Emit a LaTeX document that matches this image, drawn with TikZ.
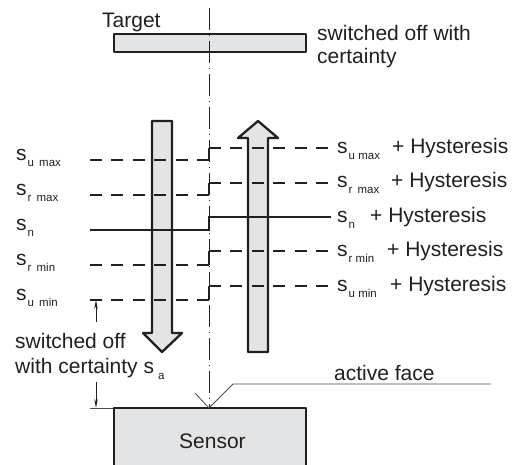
\documentclass[tikz,border=0pt]{standalone}
\usepackage{fontspec}
\setmainfont{Liberation Sans}
\usetikzlibrary{arrows.meta}
\definecolor{ink}{HTML}{231F20}
\definecolor{pale}{HTML}{E3E4E6}
\definecolor{lead}{HTML}{4A4A4A}
\newcommand{\subtx}[1]{\raisebox{-6pt}{\fontsize{11.5}{11.5}\selectfont #1}}
\begin{document}
\begin{tikzpicture}[x=1pt,y=-1pt,
  txt/.style={anchor=base west, inner sep=0pt, text=ink, font=\fontsize{21}{23}\selectfont},
  body/.style={draw=ink, fill=pale, line width=2.3pt, line join=round},
  lvl/.style={draw=ink, line width=2.6pt, dash pattern=on 12pt off 9.4pt},
  lvlsolid/.style={draw=ink, line width=2pt},
  riser/.style={draw=ink, line width=2pt},
  axisline/.style={draw=ink, line width=0.8pt, dash pattern=on 22pt off 5pt on 1pt off 5pt},
  leadline/.style={draw=lead, line width=0.8pt},
  dimarrow/.style={draw=ink, line width=0.8pt, -{Stealth[length=9pt,width=3.5pt]}}
]
\useasboundingbox (0,0) rectangle (518,464);

% target
\node[txt] (target) at (102,27) {Target};
\draw[body] (114,34) rectangle (306,52);
\node[txt] (off1) at (317,40) {switched off with};
\node[txt] (off2) at (317,63) {certainty};

% down arrow
\draw[body] (152,121) -- (172,121) -- (172,333) -- (182,333) -- (162,352) -- (143,333) -- (152,333) -- cycle;
% up arrow
\draw[body] (248,352) -- (248,138) -- (238,138) -- (258,121) -- (278,138) -- (268,138) -- (268,352) -- cycle;

% levels
\foreach \yl/\yr in {160/148, 195/183, 265/251, 300/286}{
  \draw[lvl] (209,\yl) -- (90,\yl);
  \draw[riser] (209,\yl) -- (209,\yr);
  \draw[lvl] (209,\yr) -- (331,\yr);
}
\draw[lvlsolid] (90,230) -- (209,230) -- (209,217) -- (331,217);

% axis
\draw[axisline] (209,8) -- (209,408);

% left labels
\node[txt] (lumax) at (16,160) {s\hspace{1pt}\subtx{u\, max}};
\node[txt] (lrmax) at (16,195) {s\hspace{1pt}\subtx{r\, max}};
\node[txt] (ln)    at (16,230) {s\hspace{1pt}\subtx{n}};
\node[txt] (lrmin) at (16,265) {s\hspace{1pt}\subtx{r\, min}};
\node[txt] (lumin) at (16,300) {s\hspace{1pt}\subtx{u\, min}};

% right labels
\node[txt] (rumax) at (337,153) {\makebox[55pt][l]{s\hspace{1pt}\subtx{u max}}+ Hysteresis};
\node[txt] (rrmax) at (337,187) {\makebox[54pt][l]{s\hspace{1pt}\subtx{r\, max}}+ Hysteresis};
\node[txt] (rn)    at (337,222) {\makebox[33pt][l]{s\hspace{1pt}\subtx{n}}+ Hysteresis};
\node[txt] (rrmin) at (337,256) {\makebox[50pt][l]{s\hspace{1pt}\subtx{r min}}+ Hysteresis};
\node[txt] (rumin) at (337,291) {\makebox[53pt][l]{s\hspace{1pt}\subtx{u min}}+ Hysteresis};

% switched off with certainty s_a
\node[txt] (sa1) at (15,348) {switched off};
\node[txt] (sa2) at (15,373) {with certainty s\hspace{4pt}\subtx{a}};

% dimension
\coordinate (dtop) at (96,300);
\coordinate (dbot) at (96,408);
\draw[dimarrow] (96,322) -- (dtop);
\draw[dimarrow] (96,382) -- (dbot);
\draw[leadline] (90,408) -- (114,408);

% sensor
\fill[pale] (114,408) rectangle (306,470);
\draw[ink, line width=2.3pt, line join=round] (114,470) -- (114,408) -- (306,408) -- (306,470);
\node[txt] (sensor) at (179,448) {Sensor};

% active face leader
\coordinate (face) at (209,408);
\draw[leadline] (491,384) -- (233,384) -- (face);
\draw[leadline] (195,393) -- (face);
\node[txt] (active) at (334,380) {active face};
\end{tikzpicture}
\end{document}
